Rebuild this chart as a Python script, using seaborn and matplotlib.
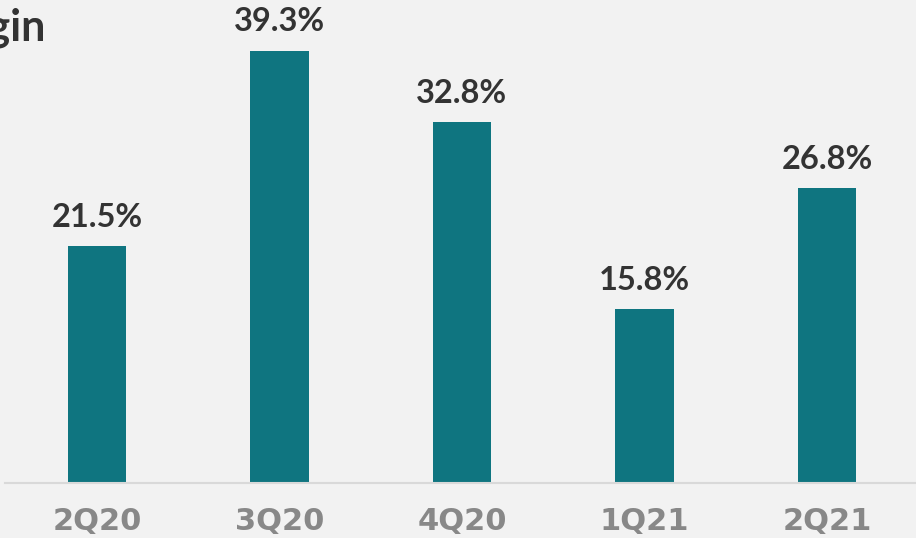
import matplotlib
matplotlib.use("Agg")
import matplotlib.pyplot as plt
import seaborn as sns
import pandas as pd

quarters = ["2Q20", "3Q20", "4Q20", "1Q21", "2Q21"]
margins = [21.5, 39.3, 32.8, 15.8, 26.8]
value_labels = ["21.5%", "39.3%", "32.8%", "15.8%", "26.8%"]
title_text = "Margin"

BG = "#f2f2f2"
BAR = "#0f7580"
DARK = "#333333"
GRAY = "#888888"

sns.set_theme(style="white")
plt.rcParams["font.family"] = ["Lato", "DejaVu Sans"]

df = pd.DataFrame({"quarter": quarters, "margin": margins})

fig = plt.figure(figsize=(9.16, 5.38), dpi=100, facecolor=BG)
ax = fig.add_axes([5 / 916, 55 / 538, 911 / 916, 483 / 538])
ax.set_facecolor(BG)

sns.barplot(data=df, x="quarter", y="margin", color=BAR, width=0.32,
            saturation=1, linewidth=0, ax=ax)

ax.set_xlim(-0.504, 4.488)
ax.set_ylim(0, 43.9)

for i, (v, lab) in enumerate(zip(margins, value_labels)):
    ax.annotate(lab, (i, v), xytext=(0, 14), textcoords="offset points",
                ha="center", va="baseline", fontsize=23.5, fontweight="bold",
                color=DARK)

for s in ["top", "left", "right"]:
    ax.spines[s].set_visible(False)
ax.spines["bottom"].set_color("#d9d9d9")
ax.spines["bottom"].set_linewidth(1.5)
ax.set_yticks([])
ax.set_xlabel("")
ax.set_ylabel("")
ax.tick_params(axis="x", length=0, pad=17)
for t in ax.get_xticklabels():
    t.set_fontfamily(["Liberation Sans Narrow", "DejaVu Sans"])
    t.set_fontweight("bold")
    t.set_fontsize(22)
    t.set_color(GRAY)

fig.text(46 / 916, 1 - 40 / 538, title_text, ha="right", va="baseline",
         fontsize=31, fontweight="bold", color=DARK)

fig.savefig("out.png", dpi=100, facecolor=BG)
